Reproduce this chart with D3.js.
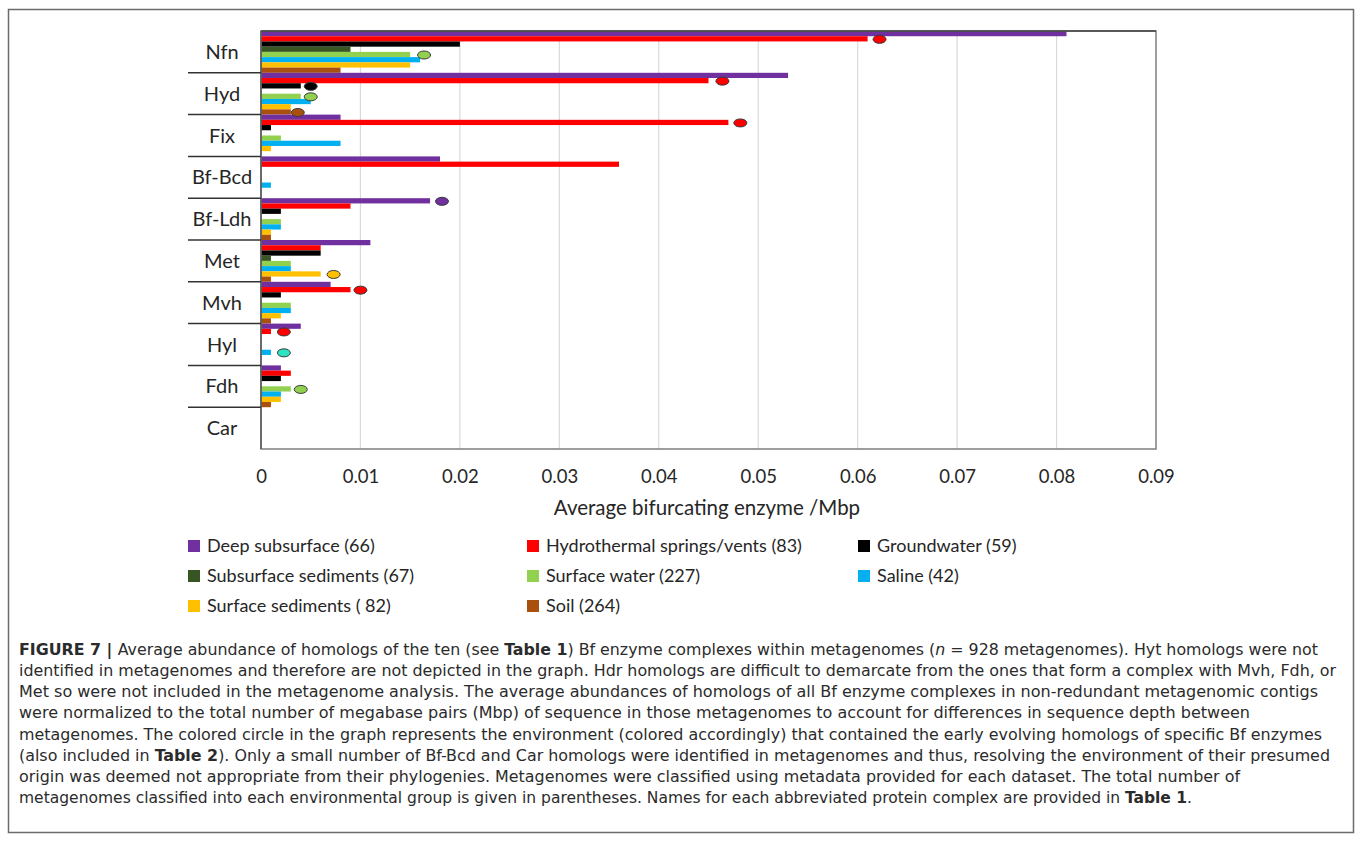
<!DOCTYPE html>
<html>
<head>
<meta charset="utf-8">
<script src="https://cdn.jsdelivr.net/npm/d3@7"></script>
<style>
  html, body { margin: 0; padding: 0; background: #fff; }
  svg { display: block; }
</style>
</head>
<body>
<svg id="fig" width="1357" height="864"></svg>
<script>
// Bf enzyme complexes (top to bottom)
const categories = ["Nfn", "Hyd", "Fix", "Bf-Bcd", "Bf-Ldh", "Met", "Mvh", "Hyl", "Fdh", "Car"];

// Environments, in bar order within each complex
const seriesNames = [
  "Deep subsurface (66)", "Hydrothermal springs/vents (83)", "Groundwater (59)",
  "Subsurface sediments (67)", "Surface water (227)", "Saline (42)",
  "Surface sediments ( 82)", "Soil (264)"
];
const seriesColors = ["#7030A0", "#FF0000", "#000000", "#375623", "#92D050", "#00B0F0", "#FFC000", "#A9500F"];

// Average bifurcating enzyme per Mbp, one array per environment
const deepSubsurface   = [0.081, 0.053, 0.008, 0.018, 0.017, 0.011, 0.007, 0.004, 0.002, 0];
const hydrothermal     = [0.061, 0.045, 0.047, 0.036, 0.009, 0.006, 0.009, 0.001, 0.003, 0];
const groundwater      = [0.020, 0.004, 0.001, 0,     0.002, 0.006, 0.002, 0,     0.002, 0];
const subsurfaceSed    = [0.009, 0,     0,     0,     0,     0.001, 0,     0,     0,     0];
const surfaceWater     = [0.015, 0.004, 0.002, 0,     0.002, 0.003, 0.003, 0,     0.003, 0];
const saline           = [0.016, 0.005, 0.008, 0.001, 0.002, 0.003, 0.003, 0.001, 0.002, 0];
const surfaceSediments = [0.015, 0.003, 0.001, 0,     0.001, 0.006, 0.002, 0,     0.002, 0];
const soil             = [0.008, 0.003, 0,     0,     0.001, 0.001, 0.001, 0,     0.001, 0];
const seriesValues = [deepSubsurface, hydrothermal, groundwater, subsurfaceSed,
                      surfaceWater, saline, surfaceSediments, soil];

// Early-evolving homolog markers: complex, environment index, position, fill
const markerCategory = ["Nfn", "Nfn", "Hyd", "Hyd", "Hyd", "Hyd", "Fix", "Bf-Ldh", "Met", "Mvh", "Hyl", "Hyl", "Fdh"];
const markerSeries   = [1, 4, 1, 2, 4, 7, 1, 0, 6, 1, 1, 5, 4];
const markerValue    = [0.0622, 0.0164, 0.0464, 0.0050, 0.0050, 0.0037, 0.0482, 0.0182, 0.0073, 0.0100, 0.0023, 0.0023, 0.0040];
const markerFill     = ["#FF0000", "#92D050", "#FF0000", "#000000", "#92D050", "#A9500F", "#FF0000", "#7030A0", "#FFC000", "#FF0000", "#FF0000", "#2DE3C0", "#92D050"];

const xTicks = [0, 0.01, 0.02, 0.03, 0.04, 0.05, 0.06, 0.07, 0.08, 0.09];

const captionLines = [
  [["b", "FIGURE 7 | "], ["", "Average abundance of homologs of the ten (see "], ["b", "Table 1"], ["", ") Bf enzyme complexes within metagenomes ("], ["i", "n"], ["", " = 928 metagenomes). Hyt homologs were not"]],
  [["", "identified in metagenomes and therefore are not depicted in the graph. Hdr homologs are difficult to demarcate from the ones that form a complex with Mvh, Fdh, or"]],
  [["", "Met so were not included in the metagenome analysis. The average abundances of homologs of all Bf enzyme complexes in non-redundant metagenomic contigs"]],
  [["", "were normalized to the total number of megabase pairs (Mbp) of sequence in those metagenomes to account for differences in sequence depth between"]],
  [["", "metagenomes. The colored circle in the graph represents the environment (colored accordingly) that contained the early evolving homologs of specific Bf enzymes"]],
  [["", "(also included in "], ["b", "Table 2"], ["", "). Only a small number of Bf-Bcd and Car homologs were identified in metagenomes and thus, resolving the environment of their presumed"]],
  [["", "origin was deemed not appropriate from their phylogenies. Metagenomes were classified using metadata provided for each dataset. The total number of"]],
  [["", "metagenomes classified into each environmental group is given in parentheses. Names for each abbreviated protein complex are provided in "], ["b", "Table 1"], ["", "."]]
];
const captionWidths = [1299, 1317, 1299, 1231, 1303, 1311, 1221, 1173];

const svg = d3.select("#fig");
const chartFont = "Lato, 'Open Sans', sans-serif";

// Figure frame
svg.append("rect")
  .attr("x", 8.5).attr("y", 9.5).attr("width", 1345).attr("height", 823)
  .attr("fill", "none").attr("stroke", "#6b6b6b").attr("stroke-width", 1.5);

const plot = { left: 261, right: 1156, top: 31, bottom: 449 };

const x = d3.scaleLinear().domain([0, 0.09]).range([plot.left, plot.right]);
const y = d3.scaleBand().domain(categories).range([plot.top, plot.bottom]).paddingInner(0).paddingOuter(0);
const yInner = d3.scaleBand().domain(d3.range(seriesNames.length)).range([0, y.bandwidth()]).padding(0);

// Vertical gridlines
svg.append("g").selectAll("line")
  .data(xTicks.slice(1, -1))
  .join("line")
  .attr("x1", d => x(d)).attr("x2", d => x(d))
  .attr("y1", plot.top).attr("y2", plot.bottom)
  .attr("stroke", "#d9d9d9").attr("stroke-width", 1.2);

// Bars
const barData = [];
categories.forEach((c, ci) => {
  seriesValues.forEach((vals, si) => {
    barData.push({ cat: c, s: si, v: vals[ci] });
  });
});
svg.append("g").selectAll("rect")
  .data(barData.filter(d => d.v > 0))
  .join("rect")
  .attr("x", x(0))
  .attr("y", d => y(d.cat) + yInner(d.s))
  .attr("width", d => x(d.v) - x(0))
  .attr("height", yInner.bandwidth())
  .attr("fill", d => seriesColors[d.s]);

// Plot area border
svg.append("rect")
  .attr("x", plot.left).attr("y", plot.top)
  .attr("width", plot.right - plot.left).attr("height", plot.bottom - plot.top)
  .attr("fill", "none").attr("stroke", "#7f7f7f").attr("stroke-width", 1.5);
svg.append("line")
  .attr("x1", plot.left).attr("x2", plot.right).attr("y1", plot.top).attr("y2", plot.top)
  .attr("stroke", "#404040").attr("stroke-width", 1.5);

// Category axis with group separators
const yAxis = svg.append("g");
yAxis.append("line")
  .attr("x1", plot.left).attr("x2", plot.left)
  .attr("y1", plot.top).attr("y2", plot.bottom)
  .attr("stroke", "#595959").attr("stroke-width", 1.5);
yAxis.selectAll("line.sep")
  .data(categories.slice(1))
  .join("line").attr("class", "sep")
  .attr("x1", 188).attr("x2", plot.left)
  .attr("y1", d => y(d)).attr("y2", d => y(d))
  .attr("stroke", "#333").attr("stroke-width", 1.5);
yAxis.selectAll("text")
  .data(categories)
  .join("text")
  .attr("x", 222)
  .attr("y", d => y(d) + y.bandwidth() / 2)
  .attr("dy", "0.35em")
  .attr("text-anchor", "middle")
  .attr("font-family", chartFont).attr("font-size", 20).attr("fill", "#262626")
  .text(d => d);

// Value axis
const xAxis = svg.append("g")
  .attr("transform", `translate(0,${plot.bottom})`)
  .call(d3.axisBottom(x).tickValues(xTicks).tickSize(0).tickPadding(21).tickFormat(d3.format("")));
xAxis.select(".domain").remove();
xAxis.selectAll("text")
  .attr("font-family", chartFont).attr("font-size", 18.5).attr("fill", "#262626");

svg.append("text")
  .attr("x", 707).attr("y", 515)
  .attr("text-anchor", "middle")
  .attr("font-family", chartFont).attr("font-size", 20.5).attr("fill", "#262626")
  .text("Average bifurcating enzyme /Mbp");

// Early-evolving homolog markers
svg.append("g").selectAll("ellipse")
  .data(markerCategory.map((c, i) => ({ cat: c, s: markerSeries[i], v: markerValue[i], fill: markerFill[i] })))
  .join("ellipse")
  .attr("cx", d => x(d.v))
  .attr("cy", d => y(d.cat) + yInner(d.s) + yInner.bandwidth() / 2 + 0.5)
  .attr("rx", 6.5).attr("ry", 4)
  .attr("fill", d => d.fill)
  .attr("stroke", "#3a3a3a").attr("stroke-width", 1);

// Legend, three columns
const legendCols = [188, 527, 858];
const legendRows = [546, 576, 606];
const legend = svg.append("g").selectAll("g")
  .data(seriesNames.map((n, i) => ({ n, i })))
  .join("g")
  .attr("transform", d => `translate(${legendCols[d.i % 3]},${legendRows[Math.floor(d.i / 3)]})`);
legend.append("rect")
  .attr("x", 0).attr("y", -6).attr("width", 12).attr("height", 12)
  .attr("fill", d => seriesColors[d.i]);
legend.append("text")
  .attr("x", 19).attr("dy", "0.35em")
  .attr("font-family", chartFont).attr("font-size", 18).attr("fill", "#262626")
  .text(d => d.n);

// Caption
const caption = svg.append("g")
  .attr("font-family", "'Liberation Sans Narrow', 'DejaVu Sans Condensed', 'Liberation Sans', sans-serif")
  .attr("font-size", 16.5).attr("fill", "#2b2b2b");
captionLines.forEach((parts, li) => {
  const t = caption.append("text")
    .attr("x", 19).attr("y", 655 + li * 21.15)
    .attr("textLength", captionWidths[li])
    .attr("lengthAdjust", "spacingAndGlyphs");
  parts.forEach(([style, str]) => {
    const ts = t.append("tspan").text(str);
    if (style === "b") ts.attr("font-weight", "bold");
    if (style === "i") ts.attr("font-style", "italic");
  });
});
</script>
</body>
</html>
